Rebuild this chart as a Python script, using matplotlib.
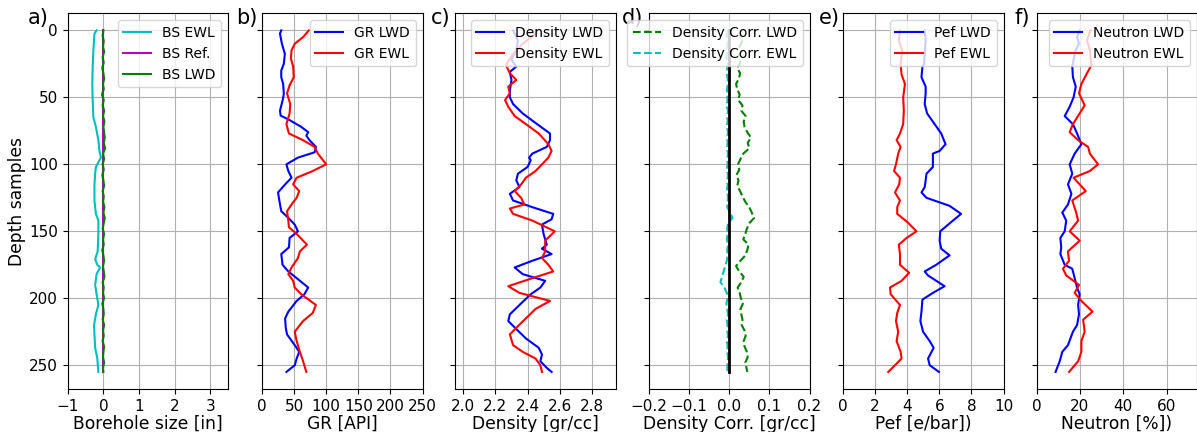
import matplotlib
matplotlib.use("Agg")
import matplotlib.pyplot as plt

# ---------------- data ----------------
# a) Borehole size
bs_ewl_depth = [0, 2.5, 15, 27, 40, 52, 65, 72, 82, 90, 95, 102, 107, 115, 127, 137, 142, 152, 165,
                171, 175, 177, 182, 190, 197, 205, 212, 220, 227, 237, 245, 255]
bs_ewl = [-0.19, -0.25, -0.28, -0.30, -0.31, -0.30, -0.28, -0.21, -0.14, -0.11, -0.07, -0.21, -0.23,
          -0.25, -0.25, -0.21, -0.14, -0.14, -0.16, -0.23, -0.17, -0.09, -0.19, -0.23, -0.19, -0.14,
          -0.21, -0.26, -0.25, -0.23, -0.17, -0.14]
bs_ref_depth = [0, 255]
bs_ref = [0.0, 0.0]
bs_lwd_depth = [0, 4, 8, 12, 16, 20, 24, 28, 32, 36, 40, 44, 48, 52, 56, 60, 64, 68, 72, 76, 80, 84,
                88, 92, 96, 100, 104, 108, 112, 116, 120, 124, 128, 132, 136, 140, 144, 148, 152, 156,
                160, 164, 168, 172, 176, 180, 184, 188, 192, 196, 200, 204, 208, 212, 216, 220, 224,
                228, 232, 236, 240, 244, 248, 252, 255]
bs_lwd = [0.0, -0.02, 0.01, -0.01, 0.02, -0.02, 0.01, -0.03, 0.0, 0.02, -0.01, 0.01, -0.04, 0.01,
          -0.02, 0.02, -0.01, 0.03, 0.0, 0.02, 0.04, 0.01, 0.05, -0.01, 0.02, -0.02, 0.01, -0.03,
          0.0, 0.02, -0.02, 0.01, -0.01, 0.03, 0.0, 0.04, 0.01, -0.02, 0.02, -0.01, 0.01, -0.03,
          0.0, 0.02, -0.01, 0.01, 0.03, -0.02, 0.01, -0.01, 0.02, -0.03, 0.0, 0.01, -0.02, 0.02,
          -0.01, 0.01, -0.02, 0.02, 0.0, -0.01, 0.02, -0.01, 0.0]

# b) GR
gr_lwd_depth = [0, 2.5, 10, 17.5, 25, 30, 35, 40, 47.5, 52.5, 60, 63.6, 67, 72, 76, 78.6, 82, 87, 91,
                95, 100, 105, 110, 115, 121, 127, 135, 140, 145, 150, 155, 162, 167, 175, 180, 185,
                192, 197, 202, 210, 215, 222, 227, 235, 240, 245, 250, 255]
gr_lwd = [30, 28, 31, 35.6, 34, 30, 30, 33, 34, 32, 28, 29, 43, 61, 72, 69, 74, 84, 82, 56, 38, 41,
          46, 36, 25, 27, 30, 41, 51, 56, 43, 42, 30, 32, 41, 54, 72, 66, 54, 41, 36, 37, 39, 51,
          58, 54, 51, 38]
gr_ewl_depth = [0, 5, 10, 15, 21, 27, 35, 41, 47, 55, 62, 70, 77, 82, 87, 92, 100, 105, 110, 115,
                120, 125, 130, 135, 142, 147, 152, 160, 165, 170, 177, 182, 187, 192, 197, 205, 211,
                217, 225, 232, 240, 247, 255]
gr_ewl = [73, 64, 51, 46, 45, 48.5, 49.5, 43, 39, 44, 43, 38, 42, 64, 82, 87, 100, 79, 54, 48.5, 58,
          54, 46, 39, 41, 42, 54, 70, 59, 56, 46, 41, 48.5, 51, 61, 84, 79, 64, 51, 54, 59, 64, 69]

# c) Density
den_lwd_depth = [0, 7.5, 15, 22, 27, 31, 37, 45, 50, 55, 62, 70, 77, 82, 87, 92, 95, 97, 102, 107,
                 112, 117, 122, 127, 132, 137, 141, 145, 152, 160, 163, 167, 172, 177, 182, 187, 192,
                 197, 205, 212, 217, 223, 230, 237, 242, 247, 252, 255]
den_lwd = [2.31, 2.34, 2.33, 2.30, 2.33, 2.29, 2.30, 2.29, 2.29, 2.31, 2.37, 2.46, 2.54, 2.54, 2.52,
           2.43, 2.41, 2.42, 2.40, 2.34, 2.33, 2.35, 2.29, 2.31, 2.43, 2.56, 2.55, 2.49, 2.50, 2.52,
           2.49, 2.55, 2.43, 2.32, 2.37, 2.51, 2.48, 2.42, 2.35, 2.29, 2.28, 2.33, 2.39, 2.47, 2.49,
           2.48, 2.52, 2.55]
den_ewl_depth = [0, 2.5, 10, 17.5, 25, 27, 32, 37, 42, 47, 52, 57, 64, 70, 77, 85, 90, 95, 100, 105,
                 110, 115, 120, 125, 130, 133, 137, 142, 150, 157, 165, 170, 175, 180, 185, 191, 196,
                 202, 208, 215, 222, 227, 235, 240, 245, 250, 255]
den_ewl = [2.46, 2.45, 2.37, 2.31, 2.27, 2.27, 2.29, 2.33, 2.28, 2.29, 2.26, 2.28, 2.32, 2.39, 2.47,
           2.53, 2.55, 2.53, 2.49, 2.45, 2.39, 2.36, 2.32, 2.36, 2.38, 2.29, 2.31, 2.43, 2.57, 2.51,
           2.51, 2.49, 2.53, 2.56, 2.43, 2.28, 2.35, 2.54, 2.45, 2.39, 2.33, 2.29, 2.31, 2.37, 2.45,
           2.48, 2.49]

# d) Density correction
dc_depth = [0, 4, 8, 12, 16, 20, 24, 28, 32, 36, 40, 44, 48, 52, 56, 60, 64, 68, 72, 76, 80, 84, 88,
            92, 96, 100, 104, 108, 112, 116, 120, 124, 128, 132, 136, 140, 144, 148, 152, 156, 160,
            164, 168, 172, 176, 180, 184, 188, 192, 196, 200, 204, 208, 212, 216, 220, 224, 228,
            232, 236, 240, 244, 248, 252, 255]
dc_lwd = [0.030, 0.025, 0.032, 0.026, 0.030, 0.022, 0.028, 0.020, 0.027, 0.024, 0.017, 0.020, 0.026,
          0.022, 0.033, 0.030, 0.041, 0.036, 0.038, 0.045, 0.054, 0.046, 0.050, 0.035, 0.028, 0.022,
          0.025, 0.018, 0.023, 0.020, 0.027, 0.033, 0.040, 0.050, 0.056, 0.062, 0.050, 0.044, 0.040,
          0.035, 0.048, 0.045, 0.040, 0.028, 0.017, 0.025, 0.036, 0.030, 0.021, 0.026, 0.029, 0.034,
          0.028, 0.030, 0.033, 0.031, 0.038, 0.041, 0.036, 0.038, 0.044, 0.046, 0.040, 0.043, 0.045]
dc_ewl = [-0.004, -0.006, -0.003, -0.005, -0.004, -0.007, -0.003, -0.005, -0.006, -0.004, -0.003,
          -0.006, -0.005, -0.004, -0.007, -0.003, -0.005, -0.004, -0.006, -0.003, -0.005, -0.004,
          -0.006, -0.003, -0.005, -0.004, -0.006, -0.003, -0.005, -0.004, -0.006, -0.003, -0.004,
          -0.005, 0.002, 0.008, -0.003, -0.005, -0.004, -0.006, -0.003, -0.005, -0.004, -0.006,
          -0.010, -0.014, -0.018, -0.022, -0.012, -0.006, -0.004, -0.007, -0.005, -0.003, -0.006,
          -0.004, -0.005, -0.003, -0.006, -0.004, -0.005, -0.003, -0.004, -0.005, -0.004]
dc_zero_depth = [0, 255]
dc_zero = [0.0, 0.0]

# e) Pef
pef_lwd_depth = [0, 7.5, 25, 27, 35, 42, 47, 55, 62, 70, 77, 85, 90, 92, 97, 102, 107, 112, 117, 121,
                 125, 131, 137, 142, 150, 157, 163, 168, 175, 180, 183, 191, 196, 201, 210, 217, 225,
                 232, 237, 245, 250, 255]
pef_lwd = [5.09, 5.15, 5.05, 4.95, 4.89, 5.15, 5.15, 5.09, 5.24, 5.71, 6.12, 6.39, 6.02, 5.6, 5.6,
           5.6, 5.2, 5.15, 5.09, 4.89, 5.2, 6.64, 7.36, 6.85, 6.06, 6.02, 6.12, 6.64, 5.81, 5.09,
           5.3, 6.33, 5.6, 4.95, 4.89, 4.82, 4.99, 5.4, 5.65, 5.3, 5.4, 5.98]
pef_ewl_depth = [0, 7.5, 15, 25, 33, 40, 50, 60, 70, 77, 82, 87, 92, 100, 105, 110, 115, 121, 127, 132,
                 137, 143, 150, 155, 160, 167, 175, 181, 187, 192, 197, 205, 211, 217, 225, 232, 240,
                 245, 250, 255]
pef_ewl = [3.55, 3.48, 3.69, 3.59, 3.65, 3.86, 3.75, 3.79, 3.75, 3.55, 3.34, 3.59, 3.44, 3.3, 3.18,
           3.55, 3.5, 3.24, 3.55, 3.38, 3.38, 4.0, 4.58, 3.96, 3.48, 3.55, 3.55, 4.12, 3.65, 2.93,
           2.97, 3.55, 3.38, 3.3, 3.44, 3.34, 3.59, 3.65, 3.24, 2.82]

# f) Neutron
neu_lwd_depth = [0, 5, 10, 15, 22, 27, 35, 42, 50, 57, 64, 70, 77, 85, 92, 100, 107, 115, 122, 130,
                 136, 142, 150, 155, 162, 167, 175, 178, 185, 192, 197, 205, 212, 220, 225, 235, 240,
                 247, 255]
neu_lwd = [19.9, 18.7, 19.6, 18.0, 17.1, 16.5, 16.8, 18.1, 17.1, 15.3, 13, 16.8, 18.7, 20.7, 17.6,
           15.3, 16.5, 14.5, 16.1, 14.5, 11.9, 13.7, 13, 11, 11.4, 11, 13, 16.5, 17.6, 18.7, 19.9,
           19.2, 19.6, 18.7, 16.8, 14.5, 11.9, 10.7, 8.8]
neu_ewl_depth = [0, 7.5, 15, 26, 32, 40, 47, 56, 62, 70, 76, 82, 87, 92, 100, 105, 110, 115, 120, 127,
                 135, 142, 150, 157, 165, 172, 178, 183, 190, 196, 202, 210, 216, 225, 232, 240, 247,
                 255]
neu_ewl = [24.9, 23.3, 24.6, 25.3, 23.3, 20.7, 19.6, 22.2, 19.9, 16.8, 15.3, 19.2, 23.8, 24.6, 28.4,
           24.6, 17.1, 19.9, 22.7, 16.5, 18.1, 19.2, 15.3, 19.9, 14.5, 15, 12.2, 13.7, 19.6, 17.6,
           20.7, 25.8, 21.5, 22.2, 20.7, 20.7, 19.2, 15]

panel_letters = ["a)", "b)", "c)", "d)", "e)", "f)"]
xlabels = ["Borehole size [in]", "GR [API]", "Density [gr/cc]", "Density Corr. [gr/cc]",
           "Pef [e/bar])", "Neutron [%])"]
xlims = [(-1, 3.5), (0, 250), (1.95, 2.95), (-0.2, 0.2), (0, 10), (0, 74)]
xticks = [[-1, 0, 1, 2, 3], [0, 50, 100, 150, 200, 250], [2.0, 2.2, 2.4, 2.6, 2.8],
          [-0.2, -0.1, 0.0, 0.1, 0.2], [0, 2, 4, 6, 8, 10], [0, 20, 40, 60]]
yticks = [0, 50, 100, 150, 200, 250]

# ---------------- figure ----------------
W, H = 1197, 432
fig = plt.figure(figsize=(W / 100, H / 100), dpi=100)
lefts_px = [67.7, 262, 455.3, 649, 843, 1036.5]
ax_w_px = 160.5
bottom_px, top_px = 389, 13.3
axes = []
for i, lp in enumerate(lefts_px):
    rect = [lp / W, 1 - bottom_px / H, ax_w_px / W, (bottom_px - top_px) / H]
    ax = fig.add_axes(rect, sharey=axes[0] if axes else None)
    axes.append(ax)

lw = 1.5
ax = axes[0]
ax.plot(bs_ewl, bs_ewl_depth, color="c", lw=lw, label="BS EWL")
ax.plot(bs_ref, bs_ref_depth, color="m", lw=lw, label="BS Ref.")
ax.plot(bs_lwd, bs_lwd_depth, color="g", lw=lw, label="BS LWD")

ax = axes[1]
ax.plot(gr_lwd, gr_lwd_depth, color="b", lw=lw, label="GR LWD")
ax.plot(gr_ewl, gr_ewl_depth, color="r", lw=lw, label="GR EWL")

ax = axes[2]
ax.plot(den_lwd, den_lwd_depth, color="b", lw=lw, label="Density LWD")
ax.plot(den_ewl, den_ewl_depth, color="r", lw=lw, label="Density EWL")

ax = axes[3]
ax.plot(dc_lwd, dc_depth, color="g", ls="--", lw=lw, label="Density Corr. LWD")
ax.plot(dc_ewl, dc_depth, color="c", ls="--", lw=lw, label="Density Corr. EWL")
ax.plot(dc_zero, dc_zero_depth, color="k", lw=2)

ax = axes[4]
ax.plot(pef_lwd, pef_lwd_depth, color="b", lw=lw, label="Pef LWD")
ax.plot(pef_ewl, pef_ewl_depth, color="r", lw=lw, label="Pef EWL")

ax = axes[5]
ax.plot(neu_lwd, neu_lwd_depth, color="b", lw=lw, label="Neutron LWD")
ax.plot(neu_ewl, neu_ewl_depth, color="r", lw=lw, label="Neutron EWL")

letter_x = [-0.12, -0.025, -0.03, -0.035, -0.02, -0.04]
for i, ax in enumerate(axes):
    ax.set_xlim(*xlims[i])
    ax.set_xticks(xticks[i])
    ax.set_yticks(yticks)
    ax.set_ylim(267.75, -12.75)
    ax.grid(True, color="#b0b0b0", lw=0.8)
    ax.tick_params(labelsize=11)
    ax.set_xlabel(xlabels[i], fontsize=12.3, labelpad=1)
    ax.legend(loc="upper right", fontsize=10)
    ax.text(letter_x[i], 1.015, panel_letters[i], transform=ax.transAxes, ha="right", va="top",
            fontsize=15)
    if i > 0:
        ax.tick_params(labelleft=False)
axes[0].set_ylabel("Depth samples", fontsize=12.3, labelpad=2)

fig.savefig("out.png", dpi=100)
